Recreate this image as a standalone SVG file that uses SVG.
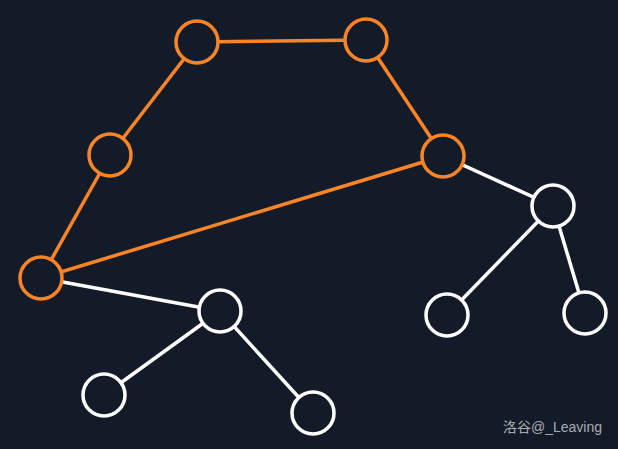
<svg xmlns="http://www.w3.org/2000/svg" width="618" height="449" viewBox="0 0 618 449">
<style>
.o{stroke:#fb8526;}
.w{stroke:#ffffff;}
line{stroke-width:3.5;stroke-linecap:round;}
circle{fill:#131b28;stroke-width:3.5;}
text{font-family:"Liberation Sans","Noto Sans CJK SC",sans-serif;font-size:14px;fill:#a9adb3;}
</style>
<rect width="618" height="449" fill="#131b28"/>
<g id="edges">
<line class="o" x1="197" y1="42" x2="366" y2="40"/>
<line class="o" x1="197" y1="42" x2="110" y2="155"/>
<line class="o" x1="366" y1="40" x2="443" y2="156"/>
<line class="o" x1="110" y1="155" x2="41" y2="278"/>
<line class="o" x1="443" y1="156" x2="41" y2="278"/>
<line class="w" x1="41" y1="278" x2="220" y2="311"/>
<line class="w" x1="443" y1="156" x2="553" y2="206"/>
<line class="w" x1="553" y1="206" x2="447" y2="315"/>
<line class="w" x1="553" y1="206" x2="585" y2="313"/>
<line class="w" x1="220" y1="311" x2="104" y2="395"/>
<line class="w" x1="220" y1="311" x2="313" y2="413"/>
</g>
<g id="n1"><circle class="o" cx="197" cy="42" r="21"/></g>
<g id="n2"><circle class="o" cx="366" cy="40" r="21"/></g>
<g id="n3"><circle class="o" cx="110" cy="155" r="21"/></g>
<g id="n4"><circle class="o" cx="443" cy="156" r="21"/></g>
<g id="n5"><circle class="o" cx="41" cy="278" r="21"/></g>
<g id="n6"><circle class="w" cx="553" cy="206" r="21"/></g>
<g id="n7"><circle class="w" cx="220" cy="311" r="21"/></g>
<g id="n8"><circle class="w" cx="447" cy="315" r="21"/></g>
<g id="n9"><circle class="w" cx="585" cy="313" r="21"/></g>
<g id="n10"><circle class="w" cx="104" cy="395" r="21"/></g>
<g id="n11"><circle class="w" cx="313" cy="413" r="21"/></g>
<text x="503" y="432">洛谷@_Leaving</text>
</svg>
